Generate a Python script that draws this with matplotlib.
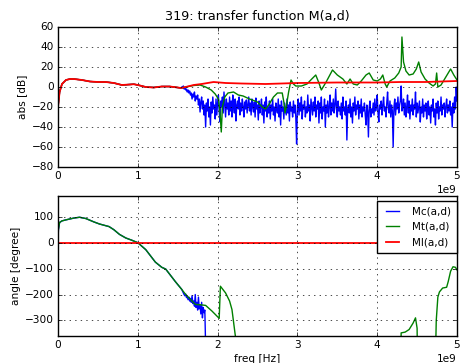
import numpy as np
import matplotlib
matplotlib.use("Agg")
import matplotlib.pyplot as plt

plt.style.use("classic")
plt.rcParams["figure.facecolor"] = "white"
plt.rcParams["savefig.facecolor"] = "white"
plt.rcParams["font.size"] = 7.6

# ---------------- data (frequencies in GHz, scaled to Hz when plotted) ----------------
# common low-frequency part (all three curves overlap)
f_common = [0, 0.02, 0.05, 0.1, 0.15, 0.2, 0.25, 0.3, 0.4, 0.5, 0.6, 0.7, 0.8,
            0.9, 0.95, 1.0, 1.1, 1.2, 1.3, 1.4, 1.5, 1.54]
abs_common = [-20, -5, 3, 7, 8, 8, 7.5, 7, 5.5, 5, 5, 4, 2,
              2.5, 2.8, 2, 0, -0.5, 0.5, 0.5, -0.5, -1]

# Mc abs: measured noisy tail, 1.55 .. 5.00 GHz in 0.01 steps
mc_abs_tail = [
    0, -1, 1, -2, -1, -3, -2, -5, -3, -6,
    -4, -8, -6, -12, -7, -10, -5, -14, -9, -12,
    -8, -18, -12, -25, -15, -10, -22, -14, -28, -18,
    -40, -16, -24, -12, -30, -20, -38, -15, -26, -10,
    -22, -18, -32, -12, -28, -16, -8, -24, -35, -14,
    -20, -10, -26, -5, -18, -30, -12, -22, -16, -28,
    -10, -24, -14, -30, -8, -20, -26, -12, -34, -18,
    -14, -22, -10, -28, -16, -24, -12, -20, -30, -15,
    -22, -13, -26, -18, -10, -24, -16, -28, -12, -20,
    -25, -15, -30, -11, -22, -18, -33, -14, -26, -20,
    -12, -28, -18, -36, -15, -24, -10, -30, -20, -26,
    -14, -32, -18, -24, -12, -28, -20, -34, -16, -22,
    -26, -12, -30, -18, -38, -14, -24, -20, -32, -16,
    -22, -28, -12, -26, -18, -34, -15, -24, -20, -30,
    -14, -26, -18, -30, -57, -20, -12, -28, -16, -24,
    -10, -32, -18, -22, -14, -30, -20, -26, -8, -24,
    -18, -34, -12, -20, -28, -15, -24, -10, -30, -18,
    -22, -14, -36, -16, -26, -10, -32, -20, -24, -12,
    -40, -18, -26, -14, -30, -20, -8, -28, -16, -24,
    -12, -26, -18, -2, -22, -30, -14, -24, -20, -28,
    -16, -32, -10, -24, -20, -28, -14, -53, -22, -18,
    -26, -12, -30, -20, -36, -16, -24, -10, -28, -18,
    -22, -14, -32, -18, -26, -12, -30, -20, -24, -16,
    -28, -38, -18, -24, -50, -20, -14, -30, -22, -26,
    -16, -28, -12, -24, -20, -8, -26, -35, -18, -22,
    -14, -28, -18, -10, -24, -20, -30, -16, -5, -22,
    -26, -14, -30, -18, -24, -60, -20, -12, -28, -16,
    -22, -10, -26, -18, -14, 1, -24, -20, -12, -28,
    -16, -30, -20, -8, -26, -14, -32, -18, -24, -12,
    -28, -18, -22, -5, -30, -16, -26, -20, -14, -35,
    -20, -26, -12, -30, -18, -24, -16, -32, -22, -14,
    -28, -20, -36, -18, -24, -12, -30, -22, -38, -16,
    -26, -14, -32, -20, -24, -10, -28, -18, -22, -16,
    -30, -20, -12, -26, -18, -24, -14, -28, -20, -40,
    -16, -26, -10, -22, 0, -14,
]
f_mc_abs_tail = [round(1.55 + 0.01 * i, 2) for i in range(len(mc_abs_tail))]

# Mt abs tail
f_mt_abs_tail = [1.6, 1.7, 1.78, 1.85, 1.92, 1.97, 2.01, 2.03, 2.046, 2.06, 2.09, 2.13,
                 2.2, 2.26, 2.32, 2.4, 2.5, 2.56, 2.6, 2.64, 2.7, 2.75, 2.81, 2.83,
                 2.845, 2.86, 2.89, 2.92, 2.95, 2.98, 3.05, 3.12, 3.18, 3.23, 3.27,
                 3.3, 3.36, 3.44, 3.5, 3.57, 3.62, 3.66, 3.7, 3.75, 3.8, 3.86, 3.9,
                 3.95, 4.0, 4.04, 4.07, 4.1, 4.12, 4.16, 4.22, 4.27, 4.3, 4.31, 4.33,
                 4.36, 4.4, 4.45, 4.49, 4.52, 4.55, 4.6, 4.65, 4.7, 4.73, 4.745, 4.76,
                 4.8, 4.86, 4.92, 4.96, 5.0]
mt_abs_tail = [0, 1.5, 2, 0, -3, -7, -12, -25, -45, -20, -10, -6,
               -5, -8, -9, -12, -15, -20, -22, -18, -10, -6, -6, -15,
               -26, -20, -5, 7, 3, 1, 1, 3, 8, 12, 4,
               -3, 5, 17, 12, 8, 3, 8, 3, 2, 6, 12, 14,
               7, 6, 8, 12, 3, 0, 6, 9, 14, 20, 50, 25,
               16, 12, 13, 18, 25, 15, 8, 4, 1, 3, 14, 0,
               2, 10, 18, 12, 7]

# Ml abs tail
f_ml_abs_tail = [1.6, 1.7, 1.8, 1.95, 2.1, 2.3, 2.6, 3.0, 3.5, 4.0, 4.3, 4.6, 4.8, 5.0]
ml_abs_tail = [0, 2, 3, 5, 4, 3.5, 3, 4, 4.5, 4.5, 5, 5, 5.5, 6]

# phase, common part
f_phase_common = [0, 0.005, 0.02, 0.05, 0.1, 0.2, 0.27, 0.35, 0.45, 0.52, 0.64, 0.7,
                  0.77, 0.85, 0.92, 1.0, 1.1, 1.22, 1.3, 1.35, 1.47, 1.55]
phase_common = [0, 50, 78, 84, 88, 95, 98, 93, 80, 72, 62, 50,
                32, 18, 10, 0, -27, -75, -95, -102, -150, -180]

# Mc phase tail
f_mc_phase_tail = [1.58, 1.59, 1.60, 1.61, 1.62, 1.63, 1.64, 1.65, 1.66, 1.67, 1.68,
                   1.69, 1.70, 1.71, 1.72, 1.73, 1.74, 1.75, 1.76, 1.77, 1.78, 1.79,
                   1.80, 1.81, 1.82, 1.83, 1.84, 1.85]
mc_phase_tail = [-200, -205, -198, -212, -208, -220, -210, -225, -215, -230, -205,
                 -235, -225, -245, -200, -250, -230, -260, -210, -255, -240, -275,
                 -230, -290, -250, -270, -260, -400]

# Mt phase tail
f_mt_phase_tail = [1.6, 1.72, 1.8, 1.85, 1.93, 2.02, 2.035, 2.1, 2.15, 2.18, 2.22, 2.25,
                   4.29, 4.3, 4.35, 4.4, 4.45, 4.48, 4.5, 4.51, 4.72, 4.74, 4.76,
                   4.78, 4.82, 4.87, 4.89, 4.92, 4.95, 4.98, 5.0]
mt_phase_tail = [-200, -238, -240, -242, -264, -292, -168, -194, -225, -258, -354, -420,
                 -600, -348, -345, -335, -310, -290, -330, -600, -600, -300, -210,
                 -190, -175, -172, -150, -110, -93, -95, -105]

# Ml phase
f_ml_phase = [0, 5]
ml_phase = [0, 0]

labels = ["Mc(a,d)", "Mt(a,d)", "Ml(a,d)"]
colors = ["b", "g", "r"]

def hz(a):
    return np.asarray(a, dtype=float) * 1e9

mc_f = hz(f_common + f_mc_abs_tail); mc_a = abs_common + mc_abs_tail
mt_f = hz(f_common + f_mt_abs_tail); mt_a = abs_common + mt_abs_tail
ml_f = hz(f_common + f_ml_abs_tail); ml_a = abs_common + ml_abs_tail

mcp_f = hz(f_phase_common + f_mc_phase_tail); mcp = phase_common + mc_phase_tail
mtp_f = hz(f_phase_common + f_mt_phase_tail); mtp = phase_common + mt_phase_tail

# ---------------- figure ----------------
fig = plt.figure(figsize=(4.62, 3.63), dpi=100)
ax1 = fig.add_axes([58 / 462, 1 - 167 / 363, 399 / 462, 140 / 363])
ax2 = fig.add_axes([58 / 462, 1 - 336 / 363, 399 / 462, 140 / 363])

ax1.plot(mc_f, mc_a, color=colors[0], lw=1)
ax1.plot(mt_f, mt_a, color=colors[1], lw=1)
ax1.plot(ml_f, ml_a, color=colors[2], lw=1.3)
ax1.set_xlim(0, 5e9)
ax1.set_ylim(-80, 60)
ax1.set_yticks(np.arange(-80, 61, 20))
ax1.set_ylabel("abs [dB]", fontsize=7.6, labelpad=3)
ax1.set_title("319: transfer function M(a,d)", fontsize=9.2, pad=5)
ax1.grid(True)

ax2.plot(mcp_f, mcp, color=colors[0], lw=1, label=labels[0])
ax2.plot(mtp_f, mtp, color=colors[1], lw=1, label=labels[1])
ax2.plot(hz(f_ml_phase), ml_phase, color=colors[2], lw=1.3, label=labels[2])
ax2.set_xlim(0, 5e9)
ax2.set_ylim(-360, 180)
ax2.set_yticks([-300, -200, -100, 0, 100])
ax2.set_ylabel("angle [degree]", fontsize=7.6, labelpad=3)
ax2.set_xlabel("freq [Hz]", fontsize=7.6, labelpad=3)
ax2.grid(True)
ax2.legend(loc="upper right", bbox_to_anchor=(1.0, 1 - 5 / 140), fontsize=7.5,
           borderaxespad=0.0, handlelength=1.8, handletextpad=1.0, borderpad=0.55)

for ax in (ax1, ax2):
    ax.tick_params(labelsize=7.6, length=3, pad=3)
    ax.xaxis.get_offset_text().set_fontsize(7.6)

fig.savefig("out.png", dpi=100)
